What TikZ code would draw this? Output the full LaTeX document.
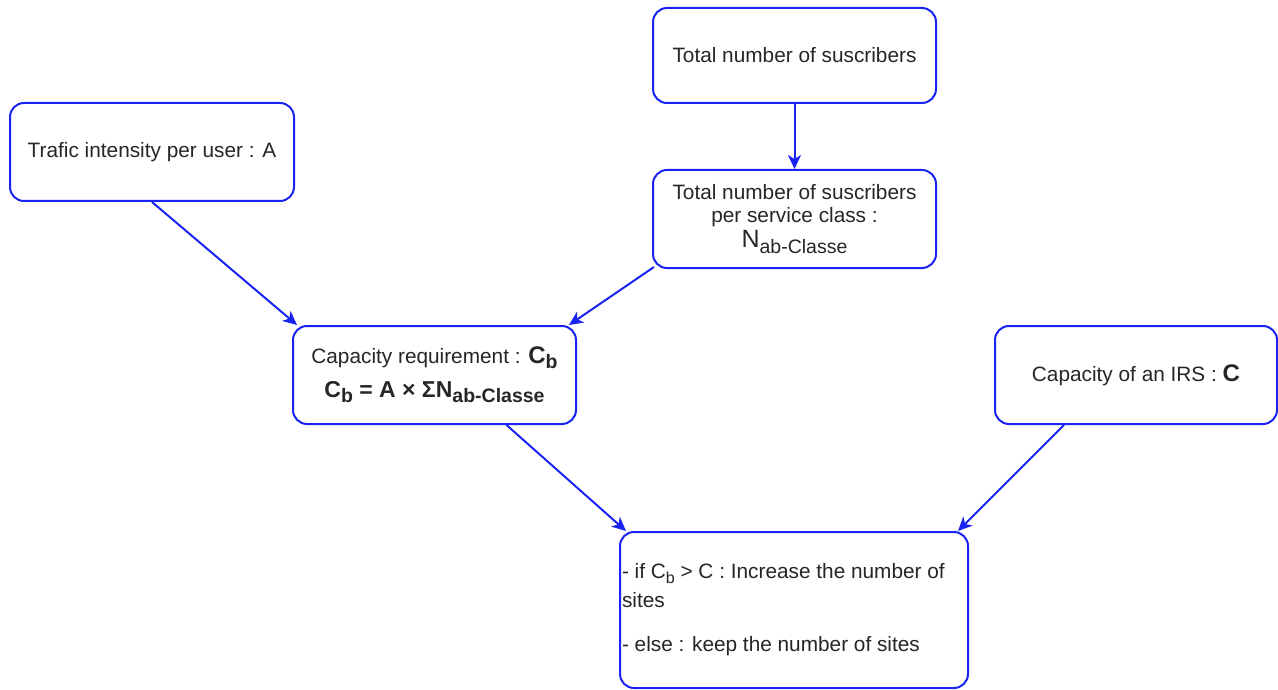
\documentclass[tikz,border=0pt]{standalone}
\usepackage{fontspec}
\setmainfont{Liberation Sans}
\usetikzlibrary{arrows.meta}
\definecolor{edge}{RGB}{26,36,242}
\definecolor{ink}{RGB}{38,38,38}
% lowered subscript at a given size
\newcommand\dn[2]{\raisebox{-0.4ex}{\fontsize{#1}{#1}\selectfont #2}}
\newcommand\bigsym[1]{{\bfseries\fontsize{24}{24}\selectfont #1}}

\begin{document}
\begin{tikzpicture}[x=1pt,y=-1pt,
  box/.style={draw=edge, line width=2pt, rounded corners=14pt, fill=white,
    text=ink, font=\fontsize{20.8}{23}\selectfont, align=center, inner sep=0pt},
  flow/.style={draw=edge, line width=2pt,
    -{Stealth[length=14pt,width=13pt,inset=4pt]}}]
\useasboundingbox (0,0) rectangle (1278,690);

\node[box, minimum width=283, minimum height=95] (total) at (794.5,55.5)
  {Total number of suscribers};
\node[box, minimum width=284, minimum height=98] (trafic) at (152,152)
  {Trafic intensity per user : A};
\node[box, minimum width=283, minimum height=98] (perclass) at (794.5,219)
  {Total number of suscribers\\per service class :\\[2pt]
   {\fontsize{25}{25}\selectfont N\dn{19.5}{ab-Classe}}};
\node[box, minimum width=283, minimum height=98] (cb) at (434.5,375)
  {Capacity requirement : \bigsym{C\dn{19.5}{b}}\\[11pt]
   {\bfseries\fontsize{23}{23}\selectfont C\dn{19.5}{b} = A × ΣN\dn{19.5}{ab-Classe}}};
\node[box, minimum width=282, minimum height=98] (irs) at (1136,375)
  {Capacity of an IRS : \bigsym{C}};
\node[box, minimum width=348, minimum height=156, text width=344, align=flush left,
  inner xsep=2pt, font=\fontsize{20.8}{29}\selectfont] (dec) at (794,610)
  {- if C\dn{16}{b} > C : Increase the number of\\sites\\[15pt]
   - else : keep the number of sites};

\draw[flow] (trafic.south) -- ([xshift=5pt]cb.north west);
\draw[flow] (total.south) -- (perclass.north);
\draw[flow] ([xshift=2pt,yshift=2pt]perclass.south west) -- ([xshift=-8pt]cb.north east);
\draw[flow] ([xshift=72pt]cb.south) -- ([xshift=-168pt]dec.north);
\draw[flow] ([xshift=-72pt]irs.south) -- ([xshift=164pt]dec.north);
\end{tikzpicture}
\end{document}
